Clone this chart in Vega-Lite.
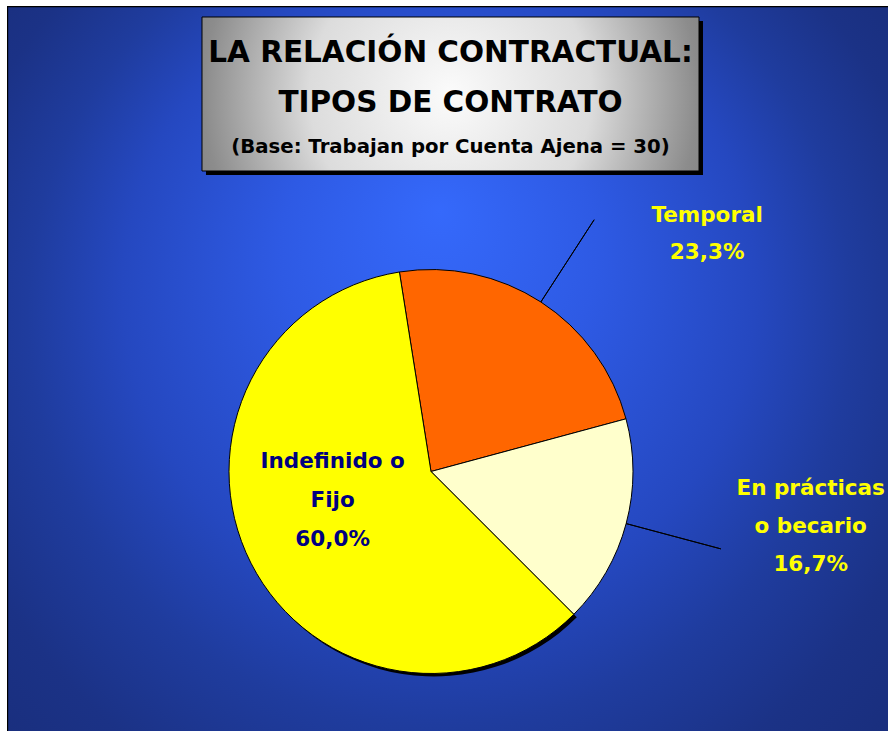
{
  "$schema": "https://vega.github.io/schema/vega-lite/v6.json",
  "width": 888,
  "height": 731,
  "autosize": {"type": "fit", "contains": "padding"},
  "padding": {"left": 7, "top": 6, "right": 0, "bottom": 0},
  "background": "#ffffff",
  "config": {"view": {"stroke": null}, "font": "DejaVu Sans"},
  "datasets": {
    "tipos": [
      {"tipo": "Temporal", "porcentaje": 23.3, "orden": 1, "etiqueta": "Temporal\n23,3%"},
      {"tipo": "En prácticas o becario", "porcentaje": 16.7, "orden": 2, "etiqueta": "En prácticas\no becario\n16,7%"},
      {"tipo": "Indefinido o Fijo", "porcentaje": 60.0, "orden": 3, "etiqueta": "Indefinido o\nFijo\n60,0%"}
    ],
    "fondo": [{"elemento": "fondo"}],
    "caja": [{"elemento": "cuadro de título"}],
    "titulo": [
      {"parte": "titulo", "texto": "LA RELACIÓN CONTRACTUAL:\nTIPOS DE CONTRATO"},
      {"parte": "base", "texto": "(Base: Trabajan por Cuenta Ajena = 30)"}
    ]
  },
  "layer": [
    {
      "data": {"name": "fondo"},
      "mark": {"type": "rect", "fill": "#000000"}
    },
    {
      "data": {"name": "fondo"},
      "mark": {
        "type": "rect",
        "fill": {
          "gradient": "radial",
          "x1": 0.49, "y1": 0.32, "r1": 0,
          "x2": 0.49, "y2": 0.5, "r2": 0.72,
          "stops": [
            {"offset": 0, "color": "#3569fb"},
            {"offset": 0.25, "color": "#2e5ae4"},
            {"offset": 0.5, "color": "#2548c0"},
            {"offset": 0.65, "color": "#1f3c9e"},
            {"offset": 0.8, "color": "#1b3286"},
            {"offset": 1, "color": "#182c78"}
          ]
        }
      },
      "encoding": {
        "x": {"datum": "fondo", "type": "nominal", "axis": null,
              "scale": {"type": "band", "paddingInner": 0, "paddingOuter": 0.00068, "align": 1}},
        "y": {"datum": "fondo", "type": "nominal", "axis": null,
              "scale": {"type": "band", "paddingInner": 0, "paddingOuter": 0.00083, "align": 1}}
      }
    },
    {
      "data": {"name": "caja"},
      "mark": {"type": "rect", "fill": "#000000"},
      "encoding": {
        "x": {"datum": "caja", "type": "nominal", "axis": null,
              "scale": {"type": "band", "paddingInner": 0, "paddingOuter": 0.3863, "align": 0.5182}},
        "y": {"datum": "caja", "type": "nominal", "axis": null,
              "scale": {"type": "band", "paddingInner": 0.4606, "paddingOuter": 1, "align": 0.02627}}
      }
    },
    {
      "encoding": {
        "x": {"datum": "caja", "type": "nominal", "axis": null,
              "scale": {"type": "band", "paddingInner": 0, "paddingOuter": 0.3863, "align": 0.5078}},
        "y": {"datum": "caja", "type": "nominal", "axis": null,
              "scale": {"type": "band", "paddingInner": 0.4606, "paddingOuter": 1, "align": 0.01926}}
      },
      "layer": [
        {
          "data": {"name": "caja"},
          "mark": {
            "type": "rect",
            "stroke": "#000000",
            "strokeWidth": 1,
            "fill": {
              "gradient": "radial",
              "x1": 0.5, "y1": 0.5, "r1": 0,
              "x2": 0.5, "y2": 0.5, "r2": 0.71,
              "stops": [
                {"offset": 0, "color": "#fbfbfb"},
                {"offset": 0.4, "color": "#dcdcdc"},
                {"offset": 0.7, "color": "#8c8c8c"},
                {"offset": 1, "color": "#6a6a6a"}
              ]
            }
          }
        },
        {
          "data": {"name": "titulo"},
          "transform": [{"filter": "datum.parte === 'titulo'"}],
          "mark": {"type": "text", "fontSize": 29.5, "fontWeight": "bold", "color": "#000000",
                   "align": "center", "baseline": "alphabetic", "lineBreak": "\n", "lineHeight": 50, "dy": -32.3},
          "encoding": {"text": {"field": "texto", "type": "nominal"}}
        },
        {
          "data": {"name": "titulo"},
          "transform": [{"filter": "datum.parte === 'base'"}],
          "mark": {"type": "text", "fontSize": 19.7, "fontWeight": "bold", "color": "#000000",
                   "align": "center", "baseline": "alphabetic", "dy": 58.7},
          "encoding": {"text": {"field": "texto", "type": "nominal"}}
        }
      ]
    },
    {
      "data": {"name": "tipos"},
      "mark": {"type": "arc", "radius": 202, "fill": "#000000"},
      "encoding": {
        "x": {"datum": "pastel", "type": "nominal", "axis": null,
              "scale": {"type": "point", "padding": 0.5, "align": 0.48468}},
        "y": {"datum": "pastel", "type": "nominal", "axis": null,
              "scale": {"type": "point", "padding": 0.5, "align": 0.6462}},
        "theta": {"field": "porcentaje", "type": "quantitative", "stack": true,
                  "scale": {"range": [-0.157, 6.1262]}},
        "order": {"field": "orden", "type": "quantitative"},
        "fillOpacity": {"condition": {"test": "datum.tipo === 'Indefinido o Fijo'", "value": 1}, "value": 0}
      }
    },
    {
      "data": {"name": "tipos"},
      "encoding": {
        "x": {"datum": "pastel", "type": "nominal", "axis": null,
              "scale": {"type": "point", "padding": 0.5, "align": 0.48127}},
        "y": {"datum": "pastel", "type": "nominal", "axis": null,
              "scale": {"type": "point", "padding": 0.5, "align": 0.64207}},
        "theta": {"field": "porcentaje", "type": "quantitative", "stack": true,
                  "scale": {"range": [-0.157, 6.1262]}},
        "order": {"field": "orden", "type": "quantitative"}
      },
      "layer": [
        {
          "mark": {"type": "arc", "radius": 202, "stroke": "#000000", "strokeWidth": 1},
          "encoding": {
            "color": {"field": "tipo", "type": "nominal", "legend": null,
                      "scale": {"domain": ["Temporal", "En prácticas o becario", "Indefinido o Fijo"],
                                "range": ["#ff6600", "#ffffcc", "#ffff00"]}}
          }
        },
        {
          "mark": {"type": "arc", "radius": 300, "radius2": 202, "padAngle": 3,
                   "fillOpacity": 0, "stroke": "#000000", "strokeWidth": 1},
          "encoding": {
            "strokeOpacity": {"condition": {"test": "datum.tipo === 'Indefinido o Fijo'", "value": 0}, "value": 1}
          }
        },
        {
          "mark": {"type": "text", "radius": 300, "dx": 113, "dy": 2, "align": "center", "baseline": "alphabetic",
                   "lineBreak": "\n", "lineHeight": 37, "fontSize": 21.5, "fontWeight": "bold", "color": "#ffff00"},
          "encoding": {
            "text": {"condition": {"test": "datum.tipo === 'Temporal'", "field": "etiqueta", "type": "nominal"}, "value": ""}
          }
        },
        {
          "mark": {"type": "text", "radius": 305, "dx": 85, "dy": -55, "align": "center", "baseline": "alphabetic",
                   "lineBreak": "\n", "lineHeight": 38, "fontSize": 21.5, "fontWeight": "bold", "color": "#ffff00"},
          "encoding": {
            "text": {"condition": {"test": "datum.tipo === 'En prácticas o becario'", "field": "etiqueta", "type": "nominal"}, "value": ""}
          }
        },
        {
          "mark": {"type": "text", "radius": 107, "dx": -3, "dy": -52, "align": "center", "baseline": "alphabetic",
                   "lineBreak": "\n", "lineHeight": 39, "fontSize": 21.5, "fontWeight": "bold", "color": "#000080"},
          "encoding": {
            "text": {"condition": {"test": "datum.tipo === 'Indefinido o Fijo'", "field": "etiqueta", "type": "nominal"}, "value": ""}
          }
        }
      ]
    }
  ],
  "resolve": {"scale": {"x": "independent", "y": "independent"}}
}
